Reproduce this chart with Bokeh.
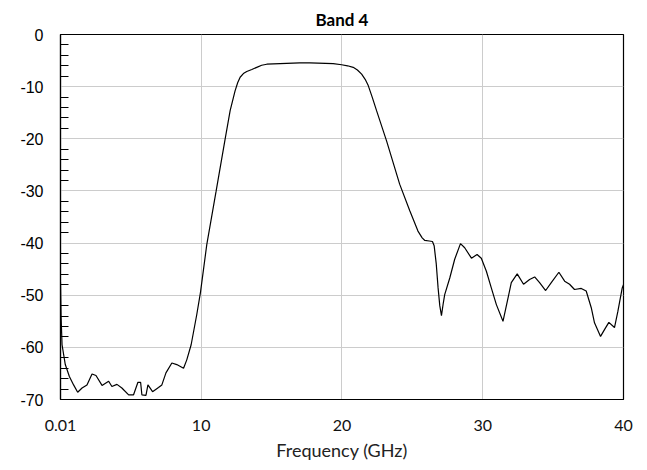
from bokeh.plotting import figure
from bokeh.models import Range1d, FixedTicker
from bokeh.embed import file_html
from bokeh.resources import INLINE

# Frequency (GHz) and insertion loss (dB)
freq = [0.01, 0.05, 0.12, 0.35, 0.64, 0.94, 1.23, 1.54, 1.89, 2.25, 2.53, 2.96, 3.43, 3.66,
        4.02, 4.37, 4.85, 5.2, 5.51, 5.7, 5.79, 6.08, 6.22, 6.55, 6.97, 7.21, 7.5, 7.92,
        8.27, 8.75, 8.98, 9.29, 9.69, 9.95, 10.4, 11.06, 11.7, 12.06, 12.41, 12.6, 12.77,
        13.0, 13.24, 13.6, 13.95, 14.3, 14.66, 15.6, 17.0, 17.73, 19.38, 19.98, 20.4, 20.8,
        21.1, 21.4, 21.65, 21.87, 22.15, 22.46, 23.17, 24.1, 24.82, 25.4, 25.7, 25.89,
        26.2, 26.43, 26.55, 26.7, 26.83, 26.95, 27.07, 27.2, 27.3, 27.66, 28.01, 28.42,
        28.72, 29.2, 29.6, 29.9, 30.26, 30.61, 30.97, 31.44, 31.8, 32.03, 32.45, 32.9,
        33.33, 33.69, 34.04, 34.47, 34.87, 35.41, 35.82, 36.17, 36.52, 37.0, 37.35,
        37.71, 37.94, 38.37, 38.65, 38.96, 39.36, 39.6, 39.91, 40.0]
loss = [-47.5, -54.0, -59.5, -63.3, -65.6, -67.2, -68.6, -67.8, -67.2, -65.1, -65.4, -67.3,
        -66.5, -67.5, -67.1, -67.8, -69.1, -69.1, -66.7, -66.7, -69.1, -69.2, -67.2, -68.5,
        -67.7, -67.2, -64.9, -63.0, -63.3, -64.0, -62.4, -59.5, -53.7, -49.5, -40.3, -30.1,
        -20.1, -14.6, -10.8, -9.2, -8.2, -7.5, -7.1, -6.7, -6.3, -5.9, -5.7, -5.6, -5.45,
        -5.45, -5.6, -5.8, -6.0, -6.3, -6.8, -7.6, -8.6, -9.8, -12.0, -14.6, -20.4, -28.7,
        -33.8, -37.7, -39.0, -39.5, -39.6, -39.7, -40.5, -44.0, -48.6, -52.0, -53.9, -51.5,
        -49.9, -46.7, -43.1, -40.1, -40.9, -42.9, -42.2, -42.9, -45.4, -48.6, -51.8, -55.0,
        -50.5, -47.6, -45.9, -47.9, -47.0, -46.5, -47.6, -49.1, -47.6, -45.6, -47.3, -47.9,
        -48.9, -48.7, -49.2, -52.4, -55.3, -57.9, -56.6, -55.2, -56.2, -53.1, -48.6, -48.0]

x_ticks = [0.01, 10, 20, 30, 40]
x_tick_labels = ["0.01", "10", "20", "30", "40"]
y_ticks = [0, -10, -20, -30, -40, -50, -60, -70]
y_tick_labels = ["0", "-10", "-20", "-30", "-40", "-50", "-60", "-70"]
y_minor = [v for v in range(-70, 1, 2) if v % 10 != 0]

p = figure(width=647, height=470, output_backend="svg", toolbar_location=None,
           x_range=Range1d(0.01, 40), y_range=Range1d(-70, 0),
           min_border_left=60, min_border_right=24, min_border_top=34, min_border_bottom=71,
           title="Band 4")
p.title.align = "center"
p.title.text_font = "Lato"
p.title.text_font_style = "bold"
p.title.text_font_size = "17px"
p.title.text_color = "black"

p.line(freq, loss, line_color="black", line_width=1.2)

p.outline_line_color = "black"
p.outline_line_width = 1.2
p.outline_line_alpha = 1

xa = p.xaxis[0]
xa.ticker = FixedTicker(ticks=x_ticks)
xa.major_label_overrides = {t: l for t, l in zip(x_ticks, x_tick_labels)}
xa.major_tick_in = 0
xa.major_tick_out = 0
xa.minor_tick_in = 0
xa.minor_tick_out = 0
xa.major_label_standoff = 20
xa.axis_label = "Frequency (GHz)"
xa.axis_label_text_font = "Lato"
xa.axis_label_text_font_style = "normal"
xa.axis_label_text_font_size = "18px"
xa.axis_label_text_color = "#222222"
xa.axis_label_standoff = 5
xa.major_label_text_font = "Lato"
xa.major_label_text_font_size = "16px"
xa.major_label_text_color = "#111111"
xa.axis_line_color = "black"
xa.axis_line_width = 1.2

ya = p.yaxis[0]
ya.ticker = FixedTicker(ticks=y_ticks, minor_ticks=y_minor)
ya.major_label_overrides = {t: l for t, l in zip(y_ticks, y_tick_labels)}
ya.major_tick_in = 0
ya.major_tick_out = 0
ya.minor_tick_in = 8
ya.minor_tick_out = 0
ya.minor_tick_line_color = "black"
ya.minor_tick_line_width = 1
ya.major_label_standoff = 17
ya.major_label_text_font = "Liberation Sans"
ya.major_label_text_font_size = "16px"
ya.major_label_text_color = "black"
ya.axis_line_color = "black"
ya.axis_line_width = 1.2

p.xgrid.ticker = FixedTicker(ticks=[10, 20, 30])
p.ygrid.ticker = FixedTicker(ticks=[-10, -20, -30, -40, -50, -60])
p.xgrid.grid_line_color = "#cccccc"
p.ygrid.grid_line_color = "#cccccc"
p.xgrid.grid_line_width = 1
p.ygrid.grid_line_width = 1

p.background_fill_color = "white"
p.border_fill_color = "white"

open("out.html", "w").write(file_html(p, INLINE))
